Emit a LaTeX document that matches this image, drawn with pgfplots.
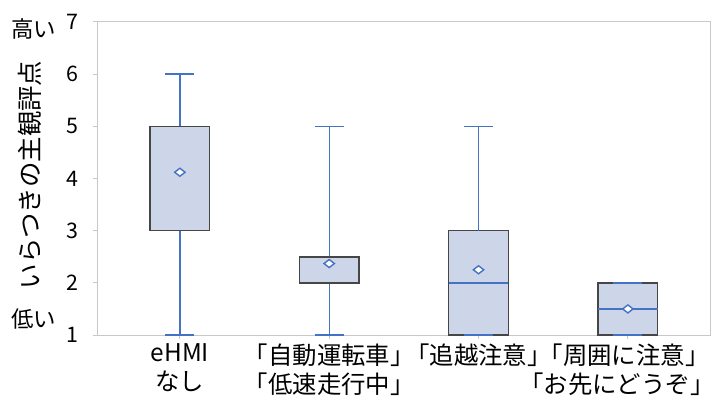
\documentclass[border=0pt]{standalone}
\usepackage{pgfplots}
\pgfplotsset{compat=1.18}
\usepgfplotslibrary{statistics}
\usepackage{fontspec}
\setmainfont{Noto Sans CJK JP}

\definecolor{boxfill}{RGB}{205,214,232}
\definecolor{boxedge}{RGB}{70,70,70}
\definecolor{whisk}{RGB}{68,114,196}
\definecolor{frame}{RGB}{200,200,200}

% flat open diamond for the mean
\pgfdeclareplotmark{flatdiamond}{%
  \pgfsetlinewidth{1.4bp}%
  \pgfpathmoveto{\pgfqpoint{-5.2bp}{0bp}}%
  \pgfpathlineto{\pgfqpoint{0bp}{4bp}}%
  \pgfpathlineto{\pgfqpoint{5.2bp}{0bp}}%
  \pgfpathlineto{\pgfqpoint{0bp}{-4bp}}%
  \pgfpathclose
  \pgfsetfillcolor{white}%
  \pgfusepathqfillstroke
}

\pgfplotsset{
  % median lying on a box edge: the edge stays dark
  edge median/.style={boxplot/every median/.style={draw=boxedge, line width=1.5bp}},
  % second pass that puts the whisker caps on top of the box outline
  caps only/.style={
    boxplot/every box/.style={draw=none, fill=none},
    boxplot/every median/.style={draw=none},
    boxplot/every average/.style={/tikz/mark=none},
  },
}

\begin{document}
\begin{tikzpicture}
\path[use as bounding box] (-97bp,-67bp) rectangle (618bp,335bp);
\begin{axis}[
  at={(0,0)}, anchor=south west,
  scale only axis,
  width=613bp, height=313bp,
  xmin=-0.555, xmax=3.55,
  ymin=1, ymax=7,
  ytick={1,2,3,4,5,6,7},
  xtick={0,1,2,3},
  xticklabels={{eHMI\\なし},{「自動運転車」\\「低速走行中」},{「追越注意」},
    {\hspace*{-2.5bp}「周囲に注意」\hspace*{5bp}\\\hspace*{-22bp}「お先にどうぞ」}},
  xticklabel style={align=center, font=\fontsize{24.5}{29}\selectfont, anchor=north,
    inner xsep=0pt, yshift=-1bp},
  yticklabel style={font=\fontsize{21.5}{25}\selectfont, anchor=east, xshift=-11bp},
  /pgf/number format/assume math mode=true,
  axis line style={draw=frame, line width=1bp},
  tick align=outside,
  xtick pos=bottom, ytick pos=left,
  major tick length=4bp,
  tick style={draw=frame, line width=1bp},
  every axis plot/.append style={color=whisk},
  boxplot/draw direction=y,
  boxplot/box extend=0.40,
  boxplot/whisker extend=0.195,
  boxplot/every box/.style={draw=boxedge, fill=boxfill, line width=1.5bp},
  boxplot/every whisker/.style={draw=whisk, line width=1.4bp},
  boxplot/every median/.style={draw=whisk, line width=1.4bp},
  boxplot/every average/.style={/tikz/mark=flatdiamond},
]
\addplot[boxplot prepared={draw position=0,
  lower whisker=1, lower quartile=3, median=5,
  upper quartile=5, upper whisker=6, average=4.12}, edge median] coordinates {};
\addplot[boxplot prepared={draw position=1,
  lower whisker=1, lower quartile=2, median=2,
  upper quartile=2.5, upper whisker=5, average=2.37}, edge median] coordinates {};
\addplot[boxplot prepared={draw position=2,
  lower whisker=1, lower quartile=1, median=2,
  upper quartile=3, upper whisker=5, average=2.25}] coordinates {};
\addplot[boxplot prepared={draw position=2,
  lower whisker=1, lower quartile=1, median=2,
  upper quartile=3, upper whisker=5, average=2.25}, caps only] coordinates {};
\addplot[boxplot prepared={draw position=3,
  lower whisker=1, lower quartile=1, median=1.5,
  upper quartile=2, upper whisker=2, average=1.5}] coordinates {};
\addplot[boxplot prepared={draw position=3,
  lower whisker=1, lower quartile=1, median=1.5,
  upper quartile=2, upper whisker=2, average=1.5}, caps only] coordinates {};
\end{axis}
% axis title and scale ends
\node[rotate=90, font=\fontsize{25.5}{30}\selectfont] at (-67bp,160bp) {いらつきの主観評点};
\node[font=\fontsize{22.5}{26}\selectfont] at (-63bp,306bp) {高い};
\node[font=\fontsize{22.5}{26}\selectfont] at (-63bp,16bp) {低い};
\end{tikzpicture}
\end{document}
